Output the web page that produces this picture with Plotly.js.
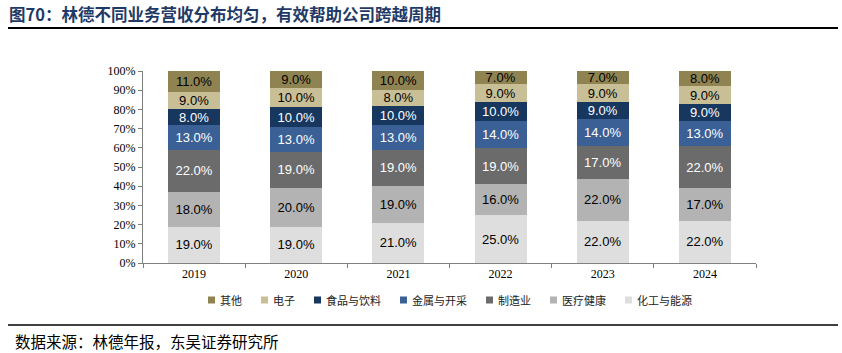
<!DOCTYPE html>
<html>
<head>
<meta charset="utf-8">
<script src="https://cdn.plot.ly/plotly-3.0.1.min.js"></script>
<style>html,body{margin:0;padding:0;background:#fff;}#chart{width:842px;height:353px;}</style>
</head>
<body>
<div id="chart"></div>
<script>
const years = ['2019','2020','2021','2022','2023','2024'];
const chemEnergy = [19,19,21,25,22,22];
const healthcare = [18,20,19,16,22,17];
const manufacturing = [22,19,19,19,17,22];
const metalsMining = [13,13,13,14,14,13];
const foodBeverage = [8,10,10,10,9,9];
const electronics = [9,10,8,9,9,9];
const others = [11,9,10,7,7,8];

const series = [
  {name:'化工与能源', vals:chemEnergy, color:'#DEDEDE', tc:'#000000'},
  {name:'医疗健康', vals:healthcare, color:'#B3B3B3', tc:'#000000'},
  {name:'制造业', vals:manufacturing, color:'#6B6B6B', tc:'#FFFFFF'},
  {name:'金属与开采', vals:metalsMining, color:'#3A6096', tc:'#FFFFFF'},
  {name:'食品与饮料', vals:foodBeverage, color:'#17375E', tc:'#FFFFFF'},
  {name:'电子', vals:electronics, color:'#C9BF97', tc:'#000000'},
  {name:'其他', vals:others, color:'#8F8352', tc:'#000000'}
];

const traces = series.map(s => ({
  type:'bar', name:s.name, x:years, y:s.vals,
  marker:{color:s.color, line:{width:0}},
  text:s.vals.map(v => v.toFixed(1)+'%'),
  textposition:'inside', insidetextanchor:'middle', textangle:0,
  constraintext:'none',
  textfont:{family:'Liberation Sans, Arial, sans-serif', size:13, color:s.tc},
  hoverinfo:'skip', showlegend:false
}));

const W0 = 143, W = 613, H0 = 263, H = 192;
const px = x => (x - W0) / W;
const py = y => (H0 - y) / H;

const shapes = [
  {type:'line', xref:'paper', yref:'paper', x0:px(8), x1:px(838), y0:py(28), y1:py(28), line:{color:'#000', width:2}},
  {type:'line', xref:'paper', yref:'paper', x0:px(8), x1:px(838), y0:py(325), y1:py(325), line:{color:'#000', width:1.5}}
];
const annotations = [
  {xref:'paper', yref:'paper', x:px(7), y:py(14), xanchor:'left', yanchor:'middle', showarrow:false,
   text:'<b>图70：林德不同业务营收分布均匀，有效帮助公司跨越周期</b>',
   font:{family:'Noto Sans CJK SC', size:16.5, color:'#1F3A66'}},
  {xref:'paper', yref:'paper', x:px(13), y:py(341), xanchor:'left', yanchor:'middle', showarrow:false,
   text:'数据来源：林德年报，东吴证券研究所',
   font:{family:'Noto Sans CJK SC', size:15.5, color:'#000'}}
];
const legFont = 11, sq = 7, legY = 300;
let lx = 208;
series.slice().reverse().forEach(s => {
  shapes.push({type:'rect', xref:'paper', yref:'paper', x0:px(lx), x1:px(lx+sq),
    y0:py(legY+sq/2), y1:py(legY-sq/2), fillcolor:s.color, line:{width:0}});
  annotations.push({xref:'paper', yref:'paper', x:px(lx+sq+3), y:py(legY), xanchor:'left', yanchor:'middle',
    showarrow:false, text:s.name,
    font:{family:'Noto Sans CJK SC', size:legFont, color:'#222'}});
  lx += sq + 4 + s.name.length*legFont + 20;
});

const layout = {
  width:842, height:353,
  margin:{l:143, r:86, t:71, b:90, pad:0},
  paper_bgcolor:'#fff', plot_bgcolor:'#fff',
  barmode:'stack', bargap:0.49,
  showlegend:false,
  xaxis:{type:'category', showline:true, linecolor:'#808080', linewidth:1,
    ticks:'outside', tickson:'boundaries', ticklen:4, tickcolor:'#808080',
    tickfont:{family:'Liberation Serif, Times New Roman, serif', size:12, color:'#000'},
    showgrid:false, zeroline:false, fixedrange:true},
  yaxis:{range:[0,100], tickvals:[0,10,20,30,40,50,60,70,80,90,100],
    ticktext:['0%','10%','20%','30%','40%','50%','60%','70%','80%','90%','100%'],
    showline:true, linecolor:'#808080', linewidth:1, ticks:'outside', ticklen:4, tickcolor:'#808080',
    tickfont:{family:'Liberation Serif, Times New Roman, serif', size:12, color:'#000'},
    showgrid:false, zeroline:false, fixedrange:true},
  shapes:shapes,
  annotations:annotations
};

Plotly.newPlot('chart', traces, layout, {staticPlot:true, displayModeBar:false});
</script>
</body>
</html>
